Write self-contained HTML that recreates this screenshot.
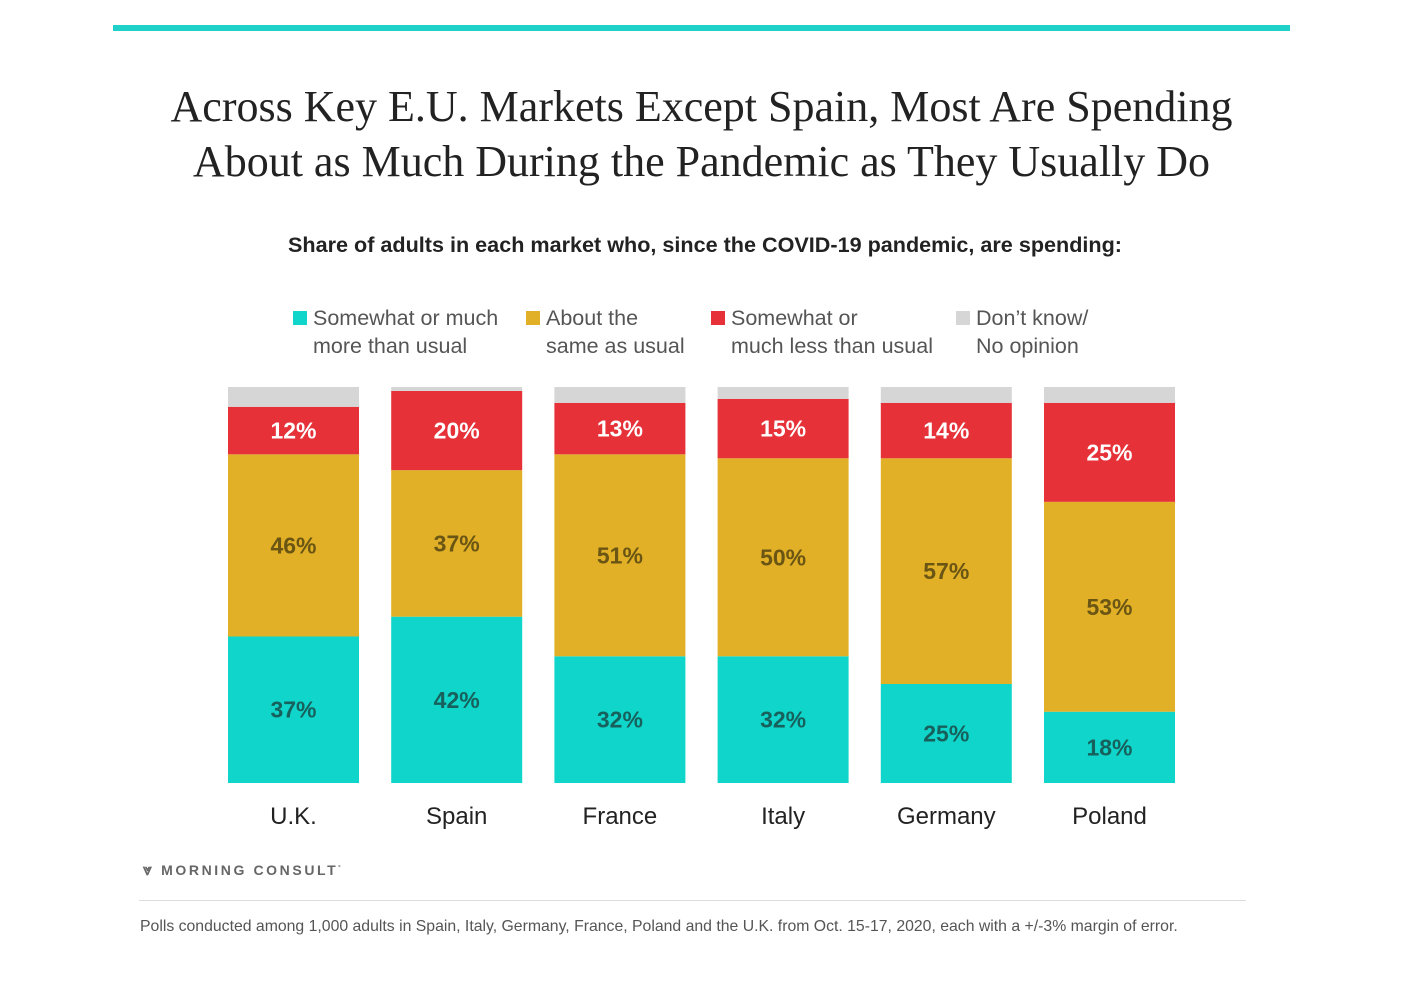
<!DOCTYPE html>
<html><head><meta charset="utf-8"><style>
html,body{margin:0;padding:0;background:#fff;}
body{width:1403px;height:992px;position:relative;overflow:hidden;font-family:"Liberation Sans",sans-serif;}
.abs{position:absolute;}
</style></head><body>
<div class="abs" style="left:113px;top:25px;width:1177px;height:6px;background:#1fd1c8"></div>
<div class="abs" style="left:0;top:79px;width:1403px;text-align:center;font-family:'Liberation Serif',serif;font-size:44px;line-height:55px;color:#222">Across Key E.U. Markets Except Spain, Most Are Spending<br>About as Much During the Pandemic as They Usually Do</div>
<div class="abs" style="left:0;top:232px;width:1410px;text-align:center;font-size:21.6px;font-weight:bold;color:#222">Share of adults in each market who, since the COVID-19 pandemic, are spending:</div>
<svg class="abs" style="left:0;top:0" width="1403" height="992" id="chart"></svg>
<div class="abs" style="left:143px;top:862px;font-size:14px;font-weight:bold;letter-spacing:2.6px;color:#666"><span style="font-size:16px">&#x2A54;</span> MORNING CONSULT<sup style="font-size:6px">°</sup></div>
<div class="abs" style="left:139px;top:900px;width:1107px;height:1px;background:#ddd"></div>
<div class="abs" style="left:140px;top:918px;font-size:15.8px;color:#555">Polls conducted among 1,000 adults in Spain, Italy, Germany, France, Poland and the U.K. from Oct. 15-17, 2020, each with a +/-3% margin of error.</div>
<script>
const categories=["U.K.","Spain","France","Italy","Germany","Poland"];
const more=[37,42,32,32,25,18];
const same=[46,37,51,50,57,53];
const less=[12,20,13,15,14,25];
const dk=[5,1,4,3,4,4];
const seriesNames=["Somewhat or much|more than usual","About the|same as usual","Somewhat or|much less than usual","Don’t know/|No opinion"];
const colors=["#10d5ca","#e1b026","#e63138","#d6d6d6"];
const txtColors=["#17605c","#6a5514","#ffffff",null];
const NS="http://www.w3.org/2000/svg";
const svg=document.getElementById('chart');
const base=783, plotH=396;
function y(v){return base-v/100*plotH;}
function x(i){return 228+i*163.2;}
const bw=131;
function mk(t,a){const e=document.createElementNS(NS,t);for(const k in a)e.setAttribute(k,a[k]);svg.appendChild(e);return e;}
const series=[more,same,less,dk];
const keys=["more","same","less","dont-know"];
categories.forEach((c,i)=>{
  let cum=0;
  series.forEach((s,j)=>{
    const v=s[i];
    const r=mk('rect',{x:x(i),y:y(cum+v),width:bw,height:y(cum)-y(cum+v),fill:colors[j]});
    
    
    if(txtColors[j]){
      const t=mk('text',{x:x(i)+bw/2,y:(y(cum)+y(cum+v))/2+8,'text-anchor':'middle','font-size':23,'font-weight':'bold',fill:txtColors[j],'font-family':'Liberation Sans, sans-serif'});
      t.textContent=v+'%';
      
      
    }
    cum+=v;
  });
  const t=mk('text',{x:x(i)+bw/2,y:824,'text-anchor':'middle','font-size':24,fill:'#222','font-family':'Liberation Sans, sans-serif'});
  t.textContent=c;
  
  
});
const lx=[293,526,711,956];
seriesNames.forEach((n,j)=>{
  const r=mk('rect',{x:lx[j],y:311,width:14,height:14,fill:colors[j]});
  
  
  n.split('|').forEach((line,k)=>{
    const t=mk('text',{x:lx[j]+20,y:325+k*28,'font-size':21.5,fill:'#555','font-family':'Liberation Sans, sans-serif'});
    t.textContent=line;
    
    
  });
});
</script>
</body></html>
